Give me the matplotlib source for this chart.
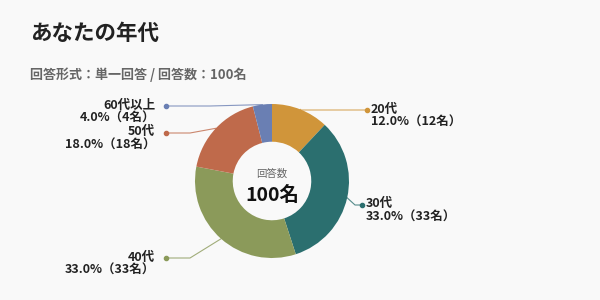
import numpy as np
import matplotlib
matplotlib.use("Agg")
import matplotlib.pyplot as plt

plt.rcParams['font.family'] = ['Noto Sans CJK JP', 'DejaVu Sans']

categories = ["20代", "30代", "40代", "50代", "60代以上"]
counts = [12, 33, 33, 18, 4]
colors = ["#d0953a", "#2b6f6f", "#8b9a5a", "#bf6a4b", "#6a7fb3"]
total = sum(counts)

# label layout: (elbow x, elbow y, dot x, text side), y measured from top in px
label_layout = {
    "20代": (300, 110, 367, "left"),
    "30代": (355, 205, 362, "left"),
    "40代": (190, 258, 166, "right"),
    "50代": (190, 133, 166, "right"),
    "60代以上": (210, 106, 166, "right"),
}


def main():
    fig = plt.figure(figsize=(6, 3), dpi=100, facecolor="#f9f9f9")
    ax = fig.add_axes([0, 0, 1, 1])
    ax.set_facecolor("#f9f9f9")

    cx, cy, r = 272, 300 - 181, 77
    wedges, _ = ax.pie(counts, colors=colors, startangle=90, counterclock=False,
                       center=(cx, cy), radius=r, frame=True,
                       wedgeprops=dict(width=r * 0.49, edgecolor="none"))
    ax.set_xlim(0, 600)
    ax.set_ylim(0, 300)
    ax.set_aspect("auto")
    ax.axis("off")

    fig.text(30 / 600, 1 - 33 / 300, "あなたの年代", fontsize=15.5,
             fontweight="bold", color="#222222", va="center")
    fig.text(30 / 600, 1 - 75 / 300, "回答形式：単一回答 / 回答数：100名",
             fontsize=9.4, fontweight="bold", color="#666666", va="center")

    ax.text(cx, cy + 7, "回答数", fontsize=7.5, color="#666666",
            ha="center", va="center")
    ax.text(cx, cy - 14, f"{total}名", fontsize=14, fontweight="bold",
            color="#111111", ha="center", va="center")

    for w, cat, n, col in zip(wedges, categories, counts, colors):
        ang = np.deg2rad((w.theta1 + w.theta2) / 2)
        sx, sy = cx + r * np.cos(ang), cy + r * np.sin(ang)
        ex, ey_px, dx, side = label_layout[cat]
        ey = 300 - ey_px
        ax.plot([sx, ex, dx], [sy, ey, ey], color=col, lw=0.8, alpha=0.8)
        ax.plot(dx, ey, "o", color=col, ms=3)
        pct = f"{n / total * 100:.1f}%（{n}名）"
        if side == "left":
            tx, ha = dx + 4, "left"
        else:
            tx, ha = dx - 11, "right"
        ax.text(tx, ey + 1, cat, fontsize=9, fontweight="bold",
                color="#222222", ha=ha, va="center")
        ax.text(tx, ey - 12, pct, fontsize=9, fontweight="bold",
                color="#222222", ha=ha, va="center")

    fig.savefig("out.png", dpi=100, facecolor=fig.get_facecolor())


if __name__ == "__main__":
    main()
